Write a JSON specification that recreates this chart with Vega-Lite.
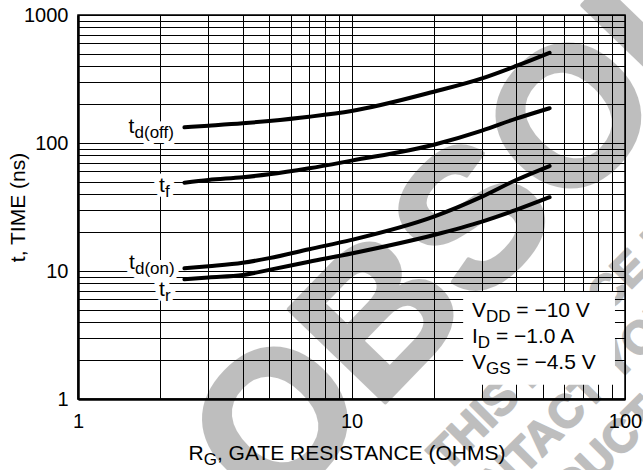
{
  "$schema": "https://vega.github.io/schema/vega-lite/v6.json",
  "width": 547,
  "height": 384,
  "autosize": {"type": "none"},
  "padding": {"left": 78, "top": 15, "right": 18, "bottom": 71},
  "background": "white",
  "config": {
    "view": {"stroke": "black", "strokeWidth": 1.5},
    "font": "Liberation Sans",
    "text": {"font": "Liberation Sans", "color": "black"}
  },
  "datasets": {
    "curves": [
      {"s": "td(off)", "x": 2.45, "y": 132.7}, {"s": "td(off)", "x": 3, "y": 136.5}, {"s": "td(off)", "x": 4, "y": 142.5}, {"s": "td(off)", "x": 5, "y": 148.6}, {"s": "td(off)", "x": 7, "y": 160.4}, {"s": "td(off)", "x": 10, "y": 177.8}, {"s": "td(off)", "x": 20, "y": 251.6}, {"s": "td(off)", "x": 30, "y": 320}, {"s": "td(off)", "x": 40, "y": 400}, {"s": "td(off)", "x": 53, "y": 507},
      {"s": "tf", "x": 2.45, "y": 49}, {"s": "tf", "x": 3, "y": 51.4}, {"s": "tf", "x": 4, "y": 54}, {"s": "tf", "x": 5, "y": 56.9}, {"s": "tf", "x": 7, "y": 63.4}, {"s": "tf", "x": 10, "y": 72.8}, {"s": "tf", "x": 20, "y": 97}, {"s": "tf", "x": 30, "y": 125}, {"s": "tf", "x": 40, "y": 155}, {"s": "tf", "x": 53, "y": 187},
      {"s": "td(on)", "x": 2.45, "y": 10.5}, {"s": "td(on)", "x": 3, "y": 10.9}, {"s": "td(on)", "x": 4, "y": 11.6}, {"s": "td(on)", "x": 5, "y": 12.6}, {"s": "td(on)", "x": 7, "y": 14.8}, {"s": "td(on)", "x": 10, "y": 17.5}, {"s": "td(on)", "x": 20, "y": 26.6}, {"s": "td(on)", "x": 30, "y": 38.1}, {"s": "td(on)", "x": 40, "y": 51.4}, {"s": "td(on)", "x": 53, "y": 66.1},
      {"s": "tr", "x": 2.45, "y": 8.61}, {"s": "tr", "x": 3, "y": 8.9}, {"s": "tr", "x": 4, "y": 9.3}, {"s": "tr", "x": 5, "y": 10.2}, {"s": "tr", "x": 7, "y": 11.8}, {"s": "tr", "x": 10, "y": 13.7}, {"s": "tr", "x": 20, "y": 19.1}, {"s": "tr", "x": 30, "y": 24.3}, {"s": "tr", "x": 40, "y": 30}, {"s": "tr", "x": 53, "y": 37.7}
    ],
    "wmBig": [{"text": "OBSOLETE", "x": 81.7, "y": 241.5}],
    "wmSmall": [
      {"text": "THIS DEVICE IS NO LONGER MANUFACTURED", "x": 20.6, "y": 0.316},
      {"text": "PLEASE CONTACT YOUR", "x": 6.63, "y": 0.00673},
      {"text": "ON SEMICONDUCTOR REPRESENTATIVE", "x": 10.1, "y": 0.004}
    ],
    "labels": [
      {"main": "t", "sub": "d(off)", "x": 1.53, "y": 119.7},
      {"main": "t", "sub": "f", "x": 1.978, "y": 41.4},
      {"main": "t", "sub": "d(on)", "x": 1.536, "y": 10.37},
      {"main": "t", "sub": "r", "x": 1.978, "y": 6.38}
    ],
    "box": [{"x": 25.6, "x2": 91.9, "y": 1.29, "y2": 6.85}],
    "cond": [
      {"main": "V", "sub": "DD", "rest": "= −10 V", "x": 27.58, "y": 4.372},
      {"main": "I", "sub": "D", "rest": "= −1.0 A", "x": 27.58, "y": 2.738},
      {"main": "V", "sub": "GS", "rest": "= −4.5 V", "x": 27.58, "y": 1.716}
    ],
    "xtitle": [{"main": "R", "sub": "G", "rest": ", GATE RESISTANCE (OHMS)", "x": 2.535, "y": 0.3337}]
  },
  "encoding": {
    "x": {
      "field": "x", "type": "quantitative",
      "scale": {"type": "log", "domain": [1, 100], "nice": false},
      "axis": {
        "values": [1, 2, 3, 4, 5, 6, 7, 8, 9, 10, 20, 30, 40, 50, 60, 70, 80, 90, 100],
        "labelExpr": "datum.value == 1 || datum.value == 10 || datum.value == 100 ? '' + datum.value : ''",
        "grid": true, "gridColor": "black", "gridOpacity": 1, "gridWidth": 1,
        "ticks": false, "domainColor": "black", "domainWidth": 2.5,
        "labelFontSize": 20, "labelColor": "black", "labelPadding": 12,
        "labelOverlap": false, "labelBound": false, "labelFlush": false,
        "labelFont": "Liberation Sans", "title": null
      }
    },
    "y": {
      "field": "y", "type": "quantitative",
      "scale": {"type": "log", "domain": [1, 1000], "nice": false},
      "axis": {
        "values": [1, 2, 3, 4, 5, 6, 7, 8, 9, 10, 20, 30, 40, 50, 60, 70, 80, 90, 100, 200, 300, 400, 500, 600, 700, 800, 900, 1000],
        "labelExpr": "datum.value == 1 || datum.value == 10 || datum.value == 100 || datum.value == 1000 ? '' + datum.value : ''",
        "grid": true, "gridColor": "black", "gridOpacity": 1, "gridWidth": 1,
        "ticks": false, "domainColor": "black", "domainWidth": 2.5,
        "labelFontSize": 20, "labelColor": "black", "labelPadding": 10,
        "labelOverlap": false, "labelBound": false, "labelFlush": false,
        "labelFont": "Liberation Sans",
        "title": "t, TIME (ns)", "titleFont": "Liberation Sans", "titleFontSize": 21,
        "titleFontWeight": "normal", "titleColor": "black",
        "titleX": -59.5, "titleY": 192, "titleBaseline": "middle", "titleAngle": -90
      }
    }
  },
  "layer": [
    {
      "data": {"name": "wmBig"},
      "mark": {"type": "text", "fontSize": 195, "fontWeight": "bold", "angle": -46, "align": "center", "baseline": "middle", "color": "black", "stroke": "black", "strokeWidth": 4, "strokeJoin": "round", "opacity": 0.25},
      "encoding": {"text": {"field": "text"}}
    },
    {
      "data": {"name": "wmSmall"},
      "mark": {"type": "text", "fontSize": 46, "fontWeight": "bold", "angle": -45, "align": "left", "baseline": "middle", "color": "black", "stroke": "black", "strokeWidth": 2, "strokeJoin": "round", "opacity": 0.25},
      "encoding": {"text": {"field": "text"}}
    },
    {
      "data": {"name": "box"},
      "mark": {"type": "rect", "color": "white", "opacity": 1},
      "encoding": {"x2": {"field": "x2"}, "y2": {"field": "y2"}}
    },
    {
      "data": {"name": "curves"},
      "mark": {"type": "line", "interpolate": "monotone", "strokeWidth": 4, "color": "black", "strokeCap": "round"},
      "encoding": {"detail": {"field": "s"}}
    },
    {
      "data": {"name": "labels"},
      "mark": {"type": "text", "fontSize": 21, "align": "left", "baseline": "alphabetic", "color": "white", "stroke": "white", "strokeWidth": 10, "strokeJoin": "round"},
      "encoding": {"text": {"field": "main"}}
    },
    {
      "data": {"name": "labels"},
      "mark": {"type": "text", "fontSize": 17, "align": "left", "baseline": "alphabetic", "dx": 6, "dy": 5, "color": "white", "stroke": "white", "strokeWidth": 10, "strokeJoin": "round"},
      "encoding": {"text": {"field": "sub"}}
    },
    {
      "data": {"name": "labels"},
      "mark": {"type": "text", "fontSize": 21, "align": "left", "baseline": "alphabetic", "color": "black"},
      "encoding": {"text": {"field": "main"}}
    },
    {
      "data": {"name": "labels"},
      "mark": {"type": "text", "fontSize": 17, "align": "left", "baseline": "alphabetic", "dx": 6, "dy": 5, "color": "black"},
      "encoding": {"text": {"field": "sub"}}
    },
    {
      "data": {"name": "cond"},
      "mark": {"type": "text", "fontSize": 21, "align": "left", "baseline": "alphabetic", "color": "black"},
      "encoding": {"text": {"field": "main"}}
    },
    {
      "data": {"name": "cond"},
      "transform": [{"filter": "datum.main == 'V'"}],
      "mark": {"type": "text", "fontSize": 17, "align": "left", "baseline": "alphabetic", "dx": 14, "dy": 5, "color": "black"},
      "encoding": {"text": {"field": "sub"}}
    },
    {
      "data": {"name": "cond"},
      "transform": [{"filter": "datum.main == 'I'"}],
      "mark": {"type": "text", "fontSize": 17, "align": "left", "baseline": "alphabetic", "dx": 5.8, "dy": 5, "color": "black"},
      "encoding": {"text": {"field": "sub"}}
    },
    {
      "data": {"name": "cond"},
      "transform": [{"filter": "datum.main == 'V'"}],
      "mark": {"type": "text", "fontSize": 21, "align": "left", "baseline": "alphabetic", "dx": 44.3, "color": "black"},
      "encoding": {"text": {"field": "rest"}}
    },
    {
      "data": {"name": "cond"},
      "transform": [{"filter": "datum.main == 'I'"}],
      "mark": {"type": "text", "fontSize": 21, "align": "left", "baseline": "alphabetic", "dx": 23.9, "color": "black"},
      "encoding": {"text": {"field": "rest"}}
    },
    {
      "data": {"name": "xtitle"},
      "mark": {"type": "text", "fontSize": 21, "align": "left", "baseline": "alphabetic", "color": "black"},
      "encoding": {"text": {"field": "main"}}
    },
    {
      "data": {"name": "xtitle"},
      "mark": {"type": "text", "fontSize": 17, "align": "left", "baseline": "alphabetic", "dx": 15.2, "dy": 5, "color": "black"},
      "encoding": {"text": {"field": "sub"}}
    },
    {
      "data": {"name": "xtitle"},
      "mark": {"type": "text", "fontSize": 21, "align": "left", "baseline": "alphabetic", "dx": 28.4, "color": "black"},
      "encoding": {"text": {"field": "rest"}}
    }
  ]
}
